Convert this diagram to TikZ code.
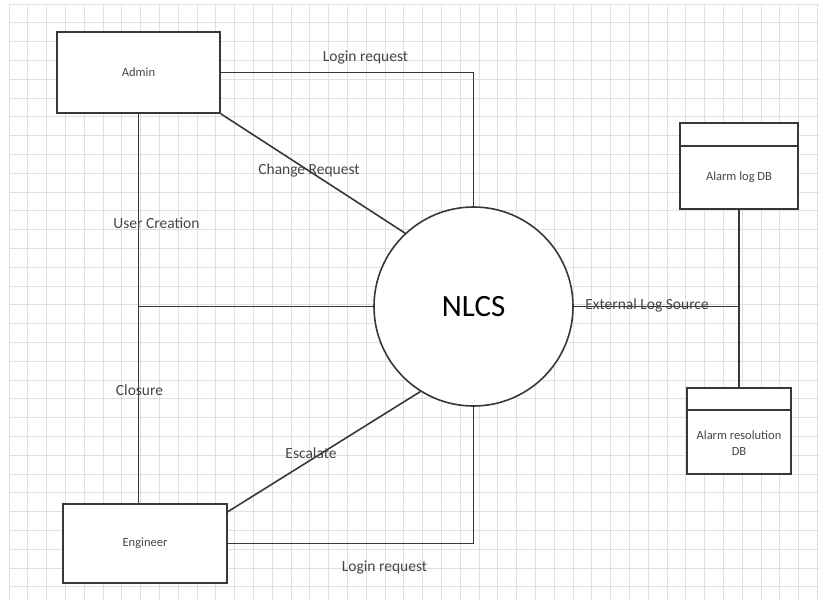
\documentclass[tikz,border=0pt]{standalone}
\usepackage{fontspec}
\setmainfont{Carlito}
\usetikzlibrary{calc}
\definecolor{linegray}{HTML}{383838}
\definecolor{textgray}{HTML}{454545}
\definecolor{gridgray}{HTML}{E0E0E0}
\tikzstyle{gridline}=[draw=gridgray, line width=1pt]
\tikzstyle{entity}=[draw=linegray, line width=1.6pt, fill=white, rectangle, font=\fontsize{12.5}{15}\selectfont, text=textgray]
\tikzstyle{store}=[draw=linegray, line width=1.6pt, fill=white, rectangle, minimum height=86pt]
\tikzstyle{storetext}=[text=textgray, font=\fontsize{12.5}{16}\selectfont, align=center, inner sep=0pt]
\tikzstyle{process}=[draw=linegray, line width=1.6pt, fill=white, circle, minimum size=199pt, font=\fontsize{31}{37}\selectfont]
\tikzstyle{flow}=[draw=linegray, line width=1.6pt]
\tikzstyle{flowlabel}=[text=textgray, font=\fontsize{15.5}{18}\selectfont, inner sep=0pt]

\begin{document}
\begin{tikzpicture}[x=1pt, y=-1pt]
	\useasboundingbox (0,0) rectangle (819,600);
	\fill[white] (0,0) rectangle (819,600);

	\foreach \i in {0,...,43}
		\draw[gridline] ({9+18.8*\i},4) -- ({9+18.8*\i},600);
	\foreach \j in {0,...,31}
		\draw[gridline] (9,{4+18.8*\j}) -- (819,{4+18.8*\j});

	\node[entity, minimum width=163pt, minimum height=81pt] (admin) at (138.5,72.5) {Admin};
	\node[entity, minimum width=164pt, minimum height=79pt] (eng) at (145,543.5) {Engineer};
	\node[process] (nlcs) at (473.5,306.5) {NLCS};
	\node[store, minimum width=118pt] (logdb) at (739,166) {};
	\node[store, minimum width=104pt] (resdb) at (739,431) {};
	\node[storetext] (logdbtext) at (739,177) {Alarm log DB};
	\node[storetext] (resdbtext) at (739,443) {Alarm resolution\\DB};
	\draw[flow] ([yshift=-24pt]logdb.north west) -- ([yshift=-24pt]logdb.north east);
	\draw[flow] ([yshift=-23pt]resdb.north west) -- ([yshift=-23pt]resdb.north east);

	\coordinate (split) at (admin.south |- nlcs.west);
	\coordinate (ext) at (logdb.south |- nlcs.east);

	\draw[flow] (admin.east) -| (nlcs.north);
	\draw[flow] (admin.south east) -- (nlcs.133);
	\draw[flow] (admin.south) -- (admin.south |- eng.north);
	\draw[flow] (split) -- (nlcs.west);
	\draw[flow] (eng.21) -- (nlcs.238);
	\draw[flow] (eng.east) -| (nlcs.south);
	\draw[flow] (nlcs.east) -- (ext);
	\draw[flow] (ext) -- (logdb.south);
	\draw[flow] (ext) -- (resdb.north);

	\node[flowlabel] (loginup) at (365.5,57) {Login request};
	\node[flowlabel] (change) at (309,170) {Change Request};
	\node[flowlabel] (usercreate) at (156.5,223) {User Creation};
	\node[flowlabel] (closure) at (139.5,390) {Closure};
	\node[flowlabel] (escalate) at (311,453) {Escalate};
	\node[flowlabel] (logindown) at (384.5,567) {Login request};
	\node[flowlabel] (extlog) at (647,305) {External Log Source};
\end{tikzpicture}
\end{document}
